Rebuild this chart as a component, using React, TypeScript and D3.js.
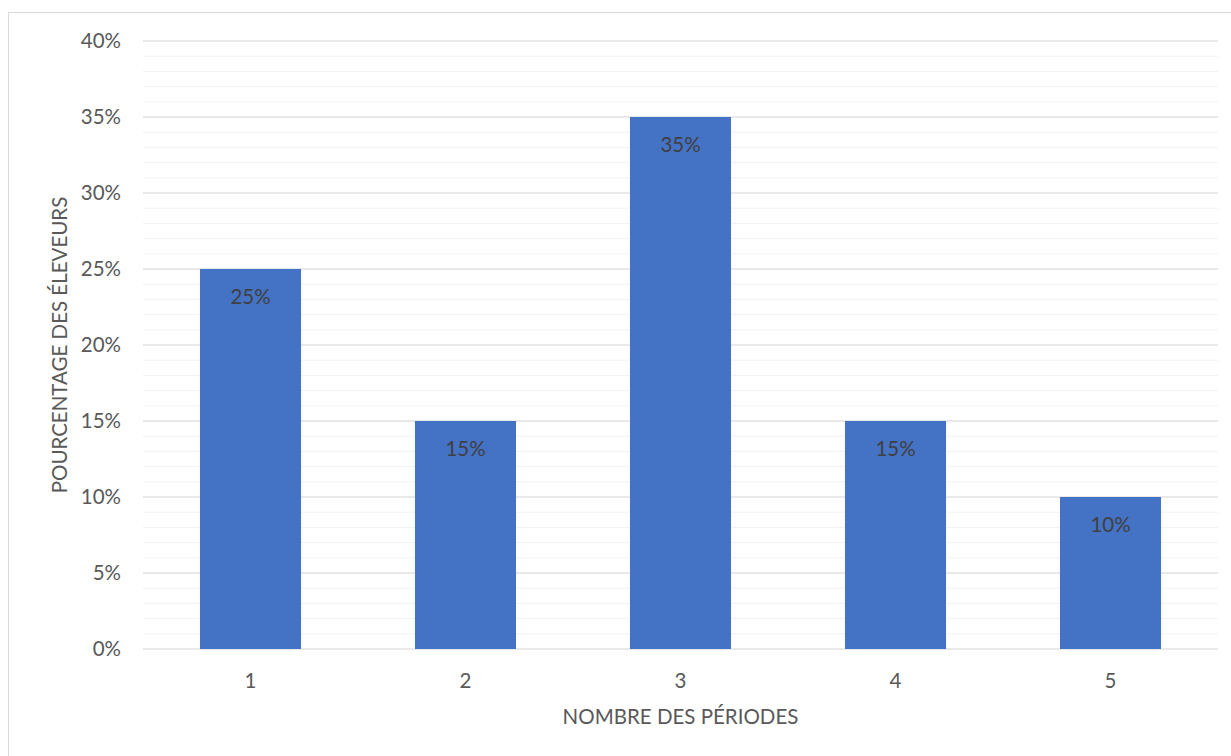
import React from "react";
import * as d3 from "d3";

// Share of farmers by number of periods
const categories = ["1", "2", "3", "4", "5"];
const values = [0.25, 0.15, 0.35, 0.15, 0.1];
const majorTicks = [0, 0.05, 0.1, 0.15, 0.2, 0.25, 0.3, 0.35, 0.4];
const minorTicks = d3.range(0, 41).map((d) => d / 100);
const xTitle = "NOMBRE DES PÉRIODES";
const yTitle = "POURCENTAGE DES ÉLEVEURS";

const W = 1231;
const H = 756;
const plot = { left: 143, right: 1218, top: 41, bottom: 649 };
const font = "Lato, 'Liberation Sans', sans-serif";
const fs = 20.5;

export default function App() {
  const x = d3
    .scaleBand<string>()
    .domain(categories)
    .range([plot.left, plot.right])
    .paddingInner(0.53)
    .paddingOuter(0.265);
  const y = d3.scaleLinear().domain([0, 0.4]).range([plot.bottom, plot.top]);
  const pct = d3.format(".0%");

  return (
    <svg
      width={W}
      height={H}
      style={{ position: "absolute", left: 0, top: 0, background: "#fff" }}
      fontFamily={font}
    >
      <rect x={8.5} y={12.5} width={W + 10} height={H + 10} fill="#fff" stroke="#d9d9d9" />
      {minorTicks.map((t, i) => (
        <line key={"m" + i} x1={plot.left} x2={plot.right} y1={y(t)} y2={y(t)} stroke="#f2f2f2" strokeWidth={1} />
      ))}
      {majorTicks.map((t, i) => (
        <line key={"g" + i} x1={plot.left} x2={plot.right} y1={y(t)} y2={y(t)} stroke="#d9d9d9" strokeWidth={1} />
      ))}
      {majorTicks.map((t, i) => (
        <text key={"yl" + i} x={121} y={y(t)} dy="0.35em" textAnchor="end" fontSize={fs} fill="#595959">
          {pct(t)}
        </text>
      ))}
      {categories.map((c, i) => (
        <g key={c}>
          <rect
            x={x(c)!}
            y={y(values[i])}
            width={x.bandwidth()}
            height={y(0) - y(values[i])}
            fill="#4472c4"
          />
          <text
            x={x(c)! + x.bandwidth() / 2}
            y={y(values[i]) + 28}
            dy="0.35em"
            textAnchor="middle"
            fontSize={fs}
            fill="#404040"
          >
            {pct(values[i])}
          </text>
          <text
            x={x(c)! + x.bandwidth() / 2}
            y={681}
            dy="0.35em"
            textAnchor="middle"
            fontSize={fs}
            fill="#595959"
          >
            {c}
          </text>
        </g>
      ))}
      <text x={(plot.left + plot.right) / 2} y={717} dy="0.35em" textAnchor="middle" fontSize={fs} fill="#595959">
        {xTitle}
      </text>
      <text
        transform={`translate(60, ${(plot.top + plot.bottom) / 2}) rotate(-90)`}
        dy="0.35em"
        textAnchor="middle"
        fontSize={fs}
        fill="#595959"
      >
        {yTitle}
      </text>
    </svg>
  );
}
